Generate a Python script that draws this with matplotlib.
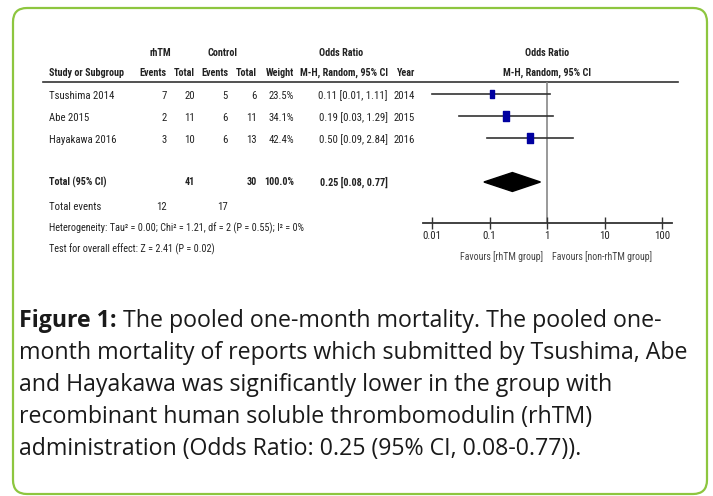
import matplotlib
matplotlib.use('Agg')
import matplotlib.pyplot as plt
import matplotlib.patches as mpatches
import matplotlib.font_manager as fm
from matplotlib.path import Path

W, H = 713, 496

# ── data ──
studies = ['Tsushima 2014', 'Abe 2015', 'Hayakawa 2016']
rhtm_events = [7, 2, 3]
rhtm_total = [20, 11, 10]
ctrl_events = [5, 6, 6]
ctrl_total = [6, 11, 13]
weights = [23.5, 34.1, 42.4]
odds = [0.11, 0.19, 0.50]
ci_low = [0.01, 0.03, 0.09]
ci_high = [1.11, 1.29, 2.84]
years = [2014, 2015, 2016]
pooled_or, pooled_low, pooled_high = 0.25, 0.08, 0.77
sum_rhtm_total, sum_ctrl_total = 41, 30
sum_rhtm_events, sum_ctrl_events = 12, 17
heterogeneity = 'Heterogeneity: Tau² = 0.00; Chi² = 1.21, df = 2 (P = 0.55); I² = 0%'
overall = 'Test for overall effect: Z = 2.41 (P = 0.02)'
xticks = [0.01, 0.1, 1, 10, 100]
xtick_labels = ['0.01', '0.1', '1', '10', '100']
caption_bold = 'Figure 1:'
caption_lines = [
    ' The pooled one-month mortality. The pooled one-',
    'month mortality of reports which submitted by Tsushima, Abe',
    'and Hayakawa was significantly lower in the group with',
    'recombinant human soluble thrombomodulin (rhTM)',
    'administration (Odds Ratio: 0.25 (95% CI, 0.08-0.77)).',
]

# narrow font for the RevMan table
names = {f.name for f in fm.fontManager.ttflist}
if 'Roboto Condensed' in names:
    narrow, stretch = ['Roboto Condensed', 'DejaVu Sans'], 'condensed'
elif 'Liberation Sans Narrow' in names:
    narrow, stretch = ['Liberation Sans Narrow', 'DejaVu Sans'], 'normal'
else:
    narrow, stretch = ['Liberation Sans', 'DejaVu Sans'], 'normal'
cap_font = ['Open Sans', 'DejaVu Sans']
tc = '#222222'

fig = plt.figure(figsize=(W / 100, H / 100), dpi=100)
ax = fig.add_axes([0, 0, 1, 1])
ax.set_xlim(0, W)
ax.set_ylim(H, 0)
ax.axis('off')
renderer = fig.canvas.get_renderer()

def fit(s, target, family, weight='normal', st='normal'):
    # font size that makes s about `target` px wide
    tmp = ax.text(0, 0, s, family=family, fontsize=10, fontweight=weight, fontstretch=st)
    w = tmp.get_window_extent(renderer).width
    tmp.remove()
    return 10 * target / w

fs_b = fit('Study or Subgroup', 75, narrow, 'bold', stretch)
fs_n = fit('Tsushima 2014', 65, narrow, 'normal', stretch)
fs_h = fit(heterogeneity, 253, narrow, 'normal', stretch)
fs_f = fit('Favours [non-rhTM group]', 100, narrow, 'normal', stretch)

# green rounded frame
ax.add_patch(mpatches.FancyBboxPatch((13, 8), 694, 486,
             boxstyle='round,pad=0,rounding_size=14',
             facecolor='white', edgecolor='#8dc63f', linewidth=1.6, zorder=0))

def t(x, y, s, ha='left', bold=False, size=None, color=tc):
    if size is None:
        size = fs_b if bold else fs_n
    ax.text(x, y, s, ha=ha, va='center', family=narrow, fontstretch=stretch,
            fontsize=size, fontweight='bold' if bold else 'normal', color=color)

# header
hy1, hy2 = 53, 73
t(160, hy1, 'rhTM', 'center', True)
t(222, hy1, 'Control', 'center', True)
t(341, hy1, 'Odds Ratio', 'center', True)
t(547, hy1, 'Odds Ratio', 'center', True)
t(49, hy2, 'Study or Subgroup', bold=True)
col_r = [167, 195, 228, 257, 294, 388, 415]
for x, h in zip(col_r, ['Events', 'Total', 'Events', 'Total', 'Weight',
                         'M-H, Random, 95% CI', 'Year']):
    t(x, hy2, h, 'right', True)
t(547, hy2, 'M-H, Random, 95% CI', 'center', True)
ax.plot([43, 678], [82, 82], color='#333333', lw=1.2)

# study rows
row0, step = 94, 22
for i, s in enumerate(studies):
    y = row0 + i * step + 2
    t(49, y, s)
    vals = [rhtm_events[i], rhtm_total[i], ctrl_events[i], ctrl_total[i],
            f'{weights[i]:.1f}%',
            f'{odds[i]:.2f} [{ci_low[i]:.2f}, {ci_high[i]:.2f}]', years[i]]
    for x, v in zip(col_r, vals):
        t(x, y, str(v), 'right')

# totals
ty = row0 + 4 * step
t(49, ty, 'Total (95% CI)', bold=True)
t(col_r[1], ty, str(sum_rhtm_total), 'right', True)
t(col_r[3], ty, str(sum_ctrl_total), 'right', True)
t(col_r[4], ty, f'{sum(weights):.1f}%', 'right', True)
t(col_r[5], ty, f'{pooled_or:.2f} [{pooled_low:.2f}, {pooled_high:.2f}]', 'right', True)
ey = ty + 25
t(49, ey, 'Total events')
t(col_r[0], ey, str(sum_rhtm_events), 'right')
t(col_r[2], ey, str(sum_ctrl_events), 'right')
t(49, ey + 21, heterogeneity, size=fs_h)
t(49, ey + 42, overall, size=fs_h)

# ── forest plot ──
x0, x1, ytop, yax = 423, 672, 82, 223
fa = fig.add_axes([x0 / W, (H - yax) / H, (x1 - x0) / W, (yax - ytop) / H])
fa.set_xscale('log')
dec = 57.5  # px per decade
fa.set_xlim(10 ** (-2 - (432 - x0) / dec), 10 ** (2 + (x1 - 662) / dec))
fa.set_ylim((yax - row0) / step, (ytop - row0) / step)
fa.patch.set_alpha(0)
for sp in ['top', 'left', 'right']:
    fa.spines[sp].set_visible(False)
fa.spines['bottom'].set_linewidth(1.3)
fa.spines['bottom'].set_color('#333333')
fa.set_yticks([])
fa.set_xticks(xticks)
fa.set_xticklabels(xtick_labels, family=narrow, fontstretch=stretch, fontsize=fs_n, color=tc)
fa.minorticks_off()
fa.tick_params(axis='x', direction='inout', length=8, width=1, color='#333333', pad=2)
fa.axvline(1, color='#888888', lw=1.2, zorder=1)

rect = Path([(-0.3, -0.5), (0.3, -0.5), (0.3, 0.5), (-0.3, 0.5), (-0.3, -0.5)],
            [Path.MOVETO, Path.LINETO, Path.LINETO, Path.LINETO, Path.CLOSEPOLY])
for i in range(len(studies)):
    fa.plot([ci_low[i], ci_high[i]], [i, i], color='#333333', lw=1.2, zorder=2)
    fa.plot(odds[i], i, marker=rect, markersize=1.2 * weights[i] ** 0.5,
            color='#0000a0', zorder=3, linestyle='none')

dy = 4
dh = 0.43
fa.fill([pooled_low, pooled_or, pooled_high, pooled_or],
        [dy, dy - dh, dy, dy + dh], color='black', zorder=3)

ax.text(543, 257, 'Favours [rhTM group]', ha='right', va='center', family=narrow,
        fontstretch=stretch, fontsize=fs_f, color='#444444')
ax.text(552, 257, 'Favours [non-rhTM group]', ha='left', va='center', family=narrow,
        fontstretch=stretch, fontsize=fs_f, color='#444444')

# ── caption ──
cap_size = fit('month mortality of reports which submitted ', 480, cap_font)
cx, cy0, cstep = 19, 318, 32
tb = ax.text(cx, cy0, caption_bold, ha='left', va='center_baseline',
             family=cap_font, fontsize=cap_size, fontweight='bold', color='#1a1a1a')
bb = tb.get_window_extent(renderer).transformed(ax.transData.inverted())
ax.text(bb.x1, cy0, caption_lines[0], ha='left', va='center_baseline',
        family=cap_font, fontsize=cap_size, color='#1a1a1a')
for i, line in enumerate(caption_lines[1:], start=1):
    ax.text(cx, cy0 + i * cstep, line, ha='left', va='center_baseline',
            family=cap_font, fontsize=cap_size, color='#1a1a1a')

fig.savefig('out.png', dpi=100, facecolor='white')
